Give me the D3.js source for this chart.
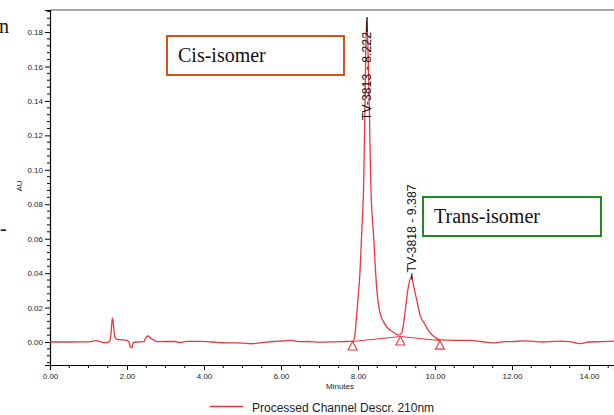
<!DOCTYPE html>
<html lang="en">
<head>
<meta charset="UTF-8">
<title>Chromatogram 210nm</title>
<style>
  body { margin: 0; background: #fff; }
  svg { display: block; }
  .tick-label { font-family: "Liberation Sans", Arial, sans-serif; font-size: 8px; fill: #222; }
  .box-label { font-family: "Liberation Serif", "Times New Roman", serif; font-size: 20px; fill: #111; }
</style>
</head>
<body>
<div id="chart"></div>
<script src="https://d3js.org/d3.v7.min.js"></script>
<script>
// trace (minutes, AU)
const traceTime = [0, 0.5, 1.0, 1.1, 1.18, 1.28, 1.38, 1.48, 1.55, 1.59, 1.62, 1.65, 1.68, 1.74, 1.9, 2.0, 2.05, 2.09, 2.13, 2.16, 2.25,
  2.44, 2.5, 2.54, 2.62, 2.7, 2.8, 3.0, 3.25, 3.4, 3.55, 3.9, 4.2, 4.6, 5.0, 5.22, 5.5, 5.8, 6.05, 6.27, 6.45, 6.7, 7.0, 7.4, 7.7,
  7.87, 7.92, 7.96, 8.0, 8.04, 8.1, 8.15, 8.19, 8.222, 8.26, 8.3, 8.33, 8.41, 8.49, 8.57, 8.66, 8.75, 8.9, 9.06,
  9.14, 9.22, 9.3, 9.387, 9.45, 9.53, 9.62, 9.72, 9.85, 9.98, 10.13, 10.5, 10.9, 11.2, 11.49, 11.8, 12.0, 12.27, 12.5,
  12.8, 13.2, 13.5, 13.76, 14.0, 14.3, 14.65];
const traceAU = [0, 0, 0.0001, 0.0004, 0.0008, 0.0004, -0.0004, -0.0003, 0.0006, 0.006, 0.014, 0.0095, 0.003, 0.0015, 0.0012, 0.001, 0, -0.003, -0.0033, -0.0005, 0,
  0.0002, 0.0028, 0.0035, 0.0022, 0.0011, 0.0002, 0.0003, 0.0003, -0.0003, 0.0004, 0.0004, 0, -0.0005, -0.0006, -0.001, -0.0004, 0.0003, 0.0006, 0.001, 0.0002, 0.0003, -0.0001, 0.0001, 0.0003,
  0.0004, 0.004, 0.014, 0.025, 0.036, 0.065, 0.094, 0.15, 0.187, 0.17, 0.13, 0.094, 0.06, 0.03, 0.017, 0.012, 0.0087, 0.006, 0.004,
  0.0055, 0.017, 0.031, 0.038, 0.032, 0.024, 0.015, 0.011, 0.006, 0.003, 0.0012, 0.001, 0.001, 0.0003, -0.0005, 0.0002, 0.0002, 0.0007, 0.0005,
  0, 0.0005, 0.0002, -0.0009, 0, 0.0002, 0.0005];

const peakNames = ["TV-3813", "TV-3818"];
const peakTimes = [8.222, 9.387];
const peakAU = [0.187, 0.038];

const baselineTimes = [7.86, 9.10, 10.13];
const baselineAU = [0.0003, 0.0032, 0.0008];

const xTicks = [0, 2, 4, 6, 8, 10, 12, 14];
const yTicks = [0, 0.02, 0.04, 0.06, 0.08, 0.10, 0.12, 0.14, 0.16, 0.18];
const legendLabel = "Processed Channel Descr. 210nm";

const W = 614, H = 415;
const plotLeft = 50, plotTop = 10, plotRight = 614, plotBottom = 365;
const red = "#e8383e";

const svg = d3.select("#chart").append("svg").attr("width", W).attr("height", H);

const x = d3.scaleLinear().domain([0, 14.65]).range([plotLeft, plotRight]);
const y = d3.scaleLinear().domain([-0.01335, 0.1928]).range([plotBottom, plotTop]);

// frame
svg.append("line").attr("x1", plotLeft).attr("x2", plotRight).attr("y1", plotTop).attr("y2", plotTop)
  .attr("stroke", "#555").attr("stroke-width", 1.2);

// x axis: majors every 2 min, minors every 0.5
const xAxis = svg.append("g").attr("transform", `translate(0,${plotBottom})`)
  .call(d3.axisBottom(x).tickValues(xTicks).tickSize(5).tickPadding(3).tickFormat(d3.format(".2f")));
xAxis.append("g").selectAll("line").data(d3.range(0.5, 14.65, 0.5).filter(d => d % 2 !== 0))
  .join("line").attr("x1", d => x(d)).attr("x2", d => x(d)).attr("y1", 0).attr("y2", 3).attr("stroke", "#000");

// y axis
const yAxis = svg.append("g").attr("transform", `translate(${plotLeft},0)`)
  .call(d3.axisLeft(y).tickValues(yTicks).tickSize(5).tickPadding(2).tickFormat(d3.format(".2f")));
yAxis.append("g").selectAll("line").data(d3.range(-0.012, 0.1928, 0.004).filter(d => Math.abs(d / 0.02 - Math.round(d / 0.02)) > 0.01))
  .join("line").attr("x1", -3).attr("x2", 0).attr("y1", d => y(d)).attr("y2", d => y(d)).attr("stroke", "#000");

[xAxis, yAxis].forEach(g => {
  g.attr("font-size", null).attr("font-family", null);
  g.select(".domain").attr("stroke", "#000").attr("stroke-width", 1.2);
  g.selectAll(".tick text").attr("class", "tick-label");
});

svg.append("text").attr("class", "tick-label")
  .attr("transform", `translate(22,186) rotate(-90)`).attr("text-anchor", "middle").text("AU");
svg.append("text").attr("class", "tick-label")
  .attr("x", 340).attr("y", 389).attr("text-anchor", "middle").text("Minutes");

// trace
svg.append("clipPath").attr("id", "plot").append("rect")
  .attr("x", plotLeft).attr("y", plotTop).attr("width", plotRight - plotLeft).attr("height", plotBottom - plotTop);

const pts = traceTime.map((t, i) => [t, traceAU[i]]);
svg.append("path").datum(pts)
  .attr("clip-path", "url(#plot)")
  .attr("fill", "none").attr("stroke", red).attr("stroke-width", 1.3)
  .attr("d", d3.line().x(d => x(d[0])).y(d => y(d[1])).curve(d3.curveMonotoneX));

// integration baseline + markers
const bl = baselineTimes.map((t, i) => [t, baselineAU[i]]);
svg.append("path").datum(bl).attr("fill", "none").attr("stroke", red).attr("stroke-width", 1)
  .attr("d", d3.line().x(d => x(d[0])).y(d => y(d[1])));
svg.selectAll(".marker").data(bl).join("path").attr("class", "marker")
  .attr("fill", "#fff").attr("stroke", red).attr("stroke-width", 1.1)
  .attr("d", d => {
    const px = x(d[0]), py = y(d[1]);
    return `M${px},${py} L${px + 4.5},${py + 8.5} L${px - 4.5},${py + 8.5} Z`;
  });

// peak labels
peakNames.forEach((name, i) => {
  const px = x(peakTimes[i]), py = y(peakAU[i]);
  const g = svg.append("g").attr("transform", `translate(${px},0)`);
  const txt = g.append("text")
    .attr("font-family", "Liberation Sans, Arial, sans-serif").attr("font-size", 12.3).attr("fill", "#111")
    .attr("dy", "0.36em").text(`${name} - ${peakTimes[i].toFixed(3)}`);
  const len = txt.node().getComputedTextLength();
  const start = Math.max(py - 4, plotTop + 22 + len);
  txt.attr("transform", `translate(0,${start}) rotate(-90)`);
  const above = start < py;
  g.append("line").attr("x1", 0.5).attr("x2", 0.5)
    .attr("y1", py - 3).attr("y2", above ? py + 3 : start - len)
    .attr("stroke", "#000").attr("stroke-width", 1.2);
});

// annotation boxes
svg.append("rect").attr("x", 167).attr("y", 36).attr("width", 177).attr("height", 39)
  .attr("fill", "#fff").attr("stroke", "#d6501e").attr("stroke-width", 2);
svg.append("text").attr("class", "box-label").attr("x", 178).attr("y", 62).text("Cis-isomer");
svg.append("rect").attr("x", 423).attr("y", 197).attr("width", 178).attr("height", 39)
  .attr("fill", "#fff").attr("stroke", "#1e8c1e").attr("stroke-width", 2);
svg.append("text").attr("class", "box-label").attr("x", 434).attr("y", 222.5).text("Trans-isomer");

// fragments of surrounding page text at the left edge
svg.append("text").attr("class", "box-label").attr("font-size", 18).attr("x", -1).attr("y", 33).text("n");
svg.append("text").attr("class", "box-label").attr("font-size", 9).attr("x", 0).attr("y", 235).text("-");

// legend
svg.append("line").attr("x1", 210).attr("x2", 243).attr("y1", 406.5).attr("y2", 406.5)
  .attr("stroke", red).attr("stroke-width", 1.3);
svg.append("text").attr("x", 252).attr("y", 411.5)
  .attr("font-family", "Liberation Sans, Arial, sans-serif").attr("font-size", 12).attr("fill", "#222")
  .text(legendLabel);
</script>
</body>
</html>
